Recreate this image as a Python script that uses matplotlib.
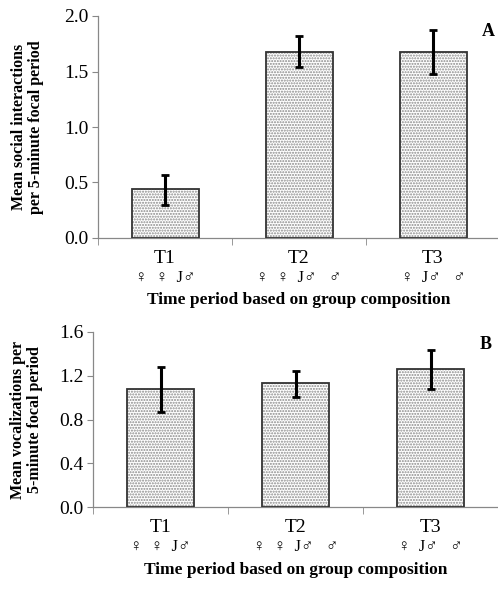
import matplotlib
matplotlib.use("Agg")
import matplotlib.pyplot as plt
import numpy as np

plt.rcParams['font.family'] = ['Liberation Serif', 'DejaVu Sans']
plt.rcParams['hatch.linewidth'] = 1.0

categories = ["T1", "T2", "T3"]
groups = ["♀  ♀  J♂", "♀  ♀  J♂   ♂", "♀  J♂   ♂"]

social_mean = [0.44, 1.68, 1.68]
social_low = [0.30, 1.54, 1.48]
social_high = [0.57, 1.82, 1.87]

vocal_mean = [1.08, 1.13, 1.26]
vocal_low = [0.87, 1.01, 1.08]
vocal_high = [1.28, 1.24, 1.44]

W, H = 498, 591
fig = plt.figure(figsize=(W / 100, H / 100), dpi=100)

def panel(rect, means, lows, highs, ylim, yticks, ylabel, letter, xlabel_off, group_off, ylab_x, pad):
    ax = fig.add_axes(rect)
    x = np.arange(len(categories))
    ax.bar(x, means, width=0.5, color='white', hatch='......', edgecolor='#8a8a8a', linewidth=0, zorder=2)
    ax.bar(x, means, width=0.5, fill=False, edgecolor='#333333', linewidth=1.3, zorder=3)
    m = np.array(means)
    yerr = [m - np.array(lows), np.array(highs) - m]
    ax.errorbar(x, means, yerr=yerr, fmt='none', ecolor='black', elinewidth=2.2, capsize=3, capthick=2, zorder=4)
    ax.set_xlim(-0.5, 2.5)
    ax.set_ylim(*ylim)
    ax.set_yticks(yticks)
    ax.set_yticklabels([f"{v:.1f}" for v in yticks], fontsize=14)
    ax.set_xticks(x)
    ax.set_xticklabels(categories, fontsize=14)
    ax.set_xticks([-0.5, 0.5, 1.5], minor=True)
    ax.tick_params(axis='x', which='major', length=0, pad=pad)
    ax.tick_params(axis='x', which='minor', length=5, color='#888888', direction='out')
    ax.tick_params(axis='y', length=4, color='#888888', direction='out', pad=3)
    for s in ['top', 'right']:
        ax.spines[s].set_visible(False)
    for s in ['left', 'bottom']:
        ax.spines[s].set_color('#888888')
        ax.spines[s].set_linewidth(0.9)
    ax.set_ylabel(ylabel, fontsize=11.5, fontweight='bold', linespacing=1.05)
    ax.yaxis.set_label_coords(ylab_x, 0.5)
    trans = matplotlib.transforms.blended_transform_factory(ax.transData, ax.transAxes)
    for xi, g in zip(x, groups):
        ax.text(xi, group_off, g, transform=trans, ha='center', va='center', fontsize=12)
    ax.text(0.5, xlabel_off, "Time period based on group composition", transform=ax.transAxes,
            ha='center', va='center', fontsize=12.5, fontweight='bold')
    ax.text(0.97, 0.93, letter, transform=ax.transAxes, ha='center', va='center', fontsize=13, fontweight='bold')
    return ax

panel([98 / W, 1 - 238 / H, 402 / W, 222 / H], social_mean, social_low, social_high,
      (0, 2.0), [0.0, 0.5, 1.0, 1.5, 2.0],
      "Mean social interactions\nper 5-minute focal period", "A",
      -62 / 222, -40 / 222, -54 / 402, 9)

panel([93 / W, 1 - 507 / H, 405 / W, 175 / H], vocal_mean, vocal_low, vocal_high,
      (0, 1.6), [0.0, 0.4, 0.8, 1.2, 1.6],
      "Mean vocalizations per\n5-minute focal period", "B",
      -63 / 175, -40 / 175, -50 / 405, 9)

fig.savefig("out.png", dpi=100)
